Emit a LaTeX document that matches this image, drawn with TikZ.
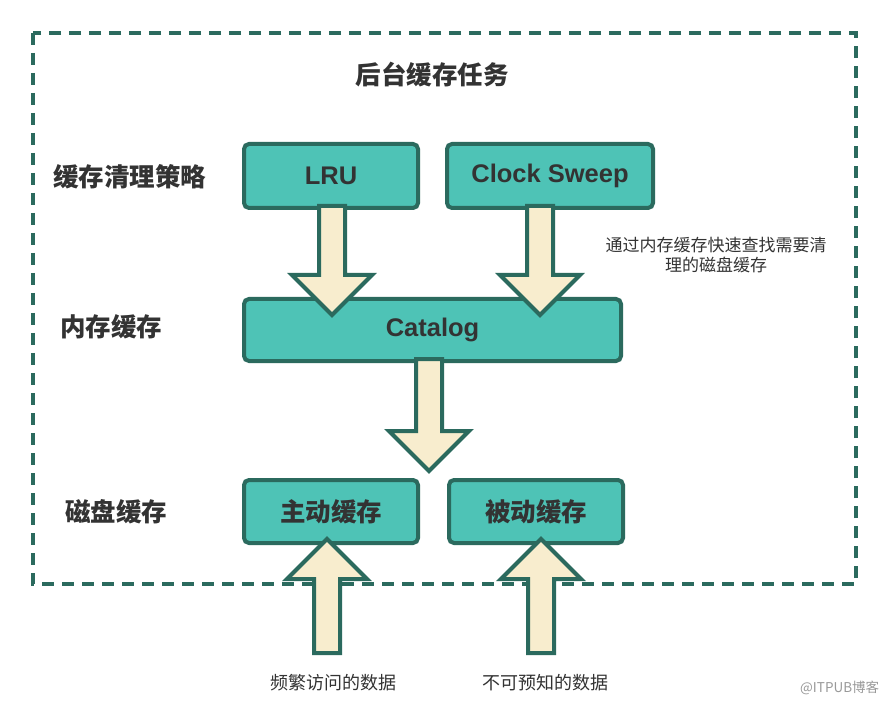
\documentclass[tikz,border=0pt]{standalone}
\usepackage{fontspec}
\setmainfont{Liberation Sans}
\newfontfamily\cjk{Noto Sans CJK SC}
\usetikzlibrary{calc}
\definecolor{boxfill}{HTML}{4EC3B6}
\definecolor{edge}{HTML}{2B6A5E}
\definecolor{arrfill}{HTML}{F8EDCE}
\definecolor{txt}{HTML}{333333}
\newcommand\blockarrow[3]{%
  \draw[barrow] let \p1=(#1), \p2=(#2), \p3=($(#2)+(0,#3)$) in
    (\x2-13pt,\y1) -- (\x2-13pt,\y3) -- (\x2-40pt,\y3) -- (\x2,\y2) --
    (\x2+40pt,\y3) -- (\x2+13pt,\y3) -- (\x2+13pt,\y1) -- cycle;}
\begin{document}
\begin{tikzpicture}[x=1pt,y=-1pt,
  cbox/.style={draw=edge, fill=boxfill, line width=4pt, rounded corners=5pt,
    inner sep=0pt, text=txt, minimum height=64pt},
  latinlbl/.style={font=\bfseries\fontsize{25.5}{30}\selectfont},
  cjklbl/.style={font=\cjk\bfseries\fontsize{25.5}{30}\selectfont},
  barrow/.style={draw=edge, fill=arrfill, line width=4pt, line join=miter},
  frame/.style={draw=edge, line width=4pt, dash pattern=on 12pt off 8pt},
  sidelbl/.style={cjklbl, text=txt, anchor=west, inner sep=0pt},
  note/.style={font=\cjk\fontsize{17}{20}\selectfont, text=txt, align=center, inner sep=0pt},
  datalbl/.style={font=\cjk\fontsize{18}{22}\selectfont, text=txt, inner sep=0pt}]
\useasboundingbox (0,0) rectangle (889,703);
\fill[white] (0,0) rectangle (889,703);
% dashed frame
\draw[frame] (33,33) rectangle (856,584);
% texts
\node[cjklbl, text=txt, inner sep=0pt] (title) at (432,75) {后台缓存任务};
\node[sidelbl] (l1) at (53,177) {缓存清理策略};
\node[sidelbl] (l2) at (60,327) {内存缓存};
\node[sidelbl] (l3) at (65,512) {磁盘缓存};
% boxes
\node[cbox, latinlbl, minimum width=174pt] (lru) at (331,176) {LRU};
\node[cbox, latinlbl, minimum width=206pt] (cs) at (550,176) {Clock Sweep};
\node[cbox, latinlbl, minimum width=377pt, minimum height=62pt] (cat) at (432.5,330) {Catalog};
\node[cbox, cjklbl, minimum width=174pt, minimum height=63pt] (act) at (331,511.5) {主动缓存};
\node[cbox, cjklbl, minimum width=174pt, minimum height=63pt] (pas) at (536,511.5) {被动缓存};
% note
\node[note] (nt) at (716,255) {通过内存缓存快速查找需要清\\理的磁盘缓存};
% arrow anchors
\coordinate (a1T) at ($(lru.south)+(1,-4)$);
\coordinate (a1H) at ($(lru.south |- cat.north)+(1,18)$);
\coordinate (a2T) at ($(cs.south)+(-10,-4)$);
\coordinate (a2H) at ($(cs.south |- cat.north)+(-10,18)$);
\coordinate (a3T) at ($(cat.south)+(-3.5,-4)$);
\coordinate (a3H) at ($(cat.south |- act.north)+(-3.5,-7)$);
\coordinate (u1H) at ($(act.south)+(-4,-6)$);
\coordinate (u1T) at ($(u1H)+(0,114)$);
\coordinate (u2H) at ($(pas.south)+(5,-6)$);
\coordinate (u2T) at ($(u2H)+(0,114)$);
\blockarrow{a1T}{a1H}{-40}
\blockarrow{a2T}{a2H}{-40}
\blockarrow{a3T}{a3H}{-40}
\blockarrow{u1T}{u1H}{40}
\blockarrow{u2T}{u2H}{40}
% bottom labels
\node[datalbl] (d1) at (333,683) {频繁访问的数据};
\node[datalbl] (d2) at (545,683) {不可预知的数据};
\node[font=\cjk\fontsize{13.5}{16}\selectfont, text=black!40, anchor=west, inner sep=0pt] (wm) at (800,688) {@ITPUB博客};
\end{tikzpicture}
\end{document}
